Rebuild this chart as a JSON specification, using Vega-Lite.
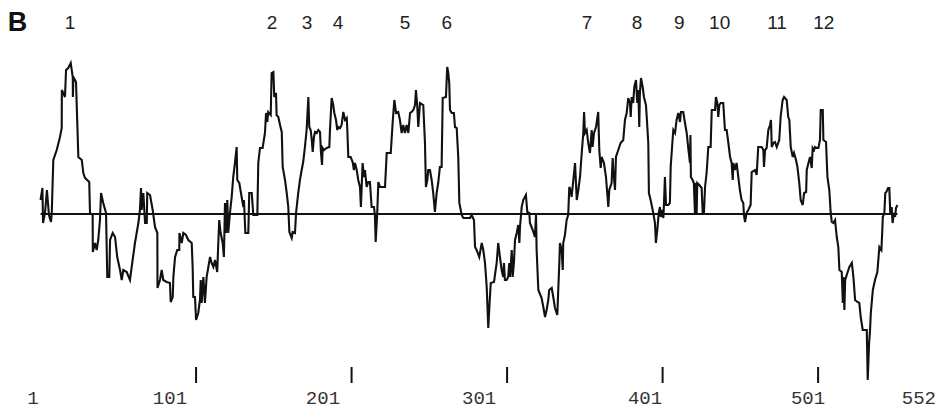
{
"$schema": "https://vega.github.io/schema/vega-lite/v6.json",
"width": 938, "height": 417, "autosize": {"type": "none"}, "padding": 0,
"background": "white",
"config": {"view": {"stroke": null}},
"datasets": {
"h": [
{"r":1,"v":0.28},{"r":2.2,"v":0.52},{"r":2.6,"v":-0.18},{"r":3.9,"v":0.04},{"r":5.1,"v":0.48},{"r":6.4,"v":-0.02},{"r":7.7,"v":-0.16},{"r":8.2,"v":0.02},{"r":9.2,"v":1.08},{"r":11.4,"v":1.28},{"r":13.5,"v":1.54},{"r":14.6,"v":1.72},{"r":14.7,"v":2.48},{"r":16.7,"v":2.34},{"r":17.4,"v":2.88},{"r":18.8,"v":2.92},{"r":20.4,"v":3.02},{"r":21.7,"v":2.74},{"r":21.8,"v":2.34},{"r":22.1,"v":2.74},{"r":23.8,"v":2.64},{"r":24.6,"v":1.84},{"r":25.3,"v":1.14},{"r":27.5,"v":1.08},{"r":28.5,"v":0.82},{"r":29.6,"v":0.72},{"r":32.3,"v":0.64},{"r":32.8,"v":0.02},{"r":34.5,"v":-0.02},{"r":34.6,"v":-0.76},{"r":36.0,"v":-0.58},{"r":37.1,"v":-0.72},{"r":38.1,"v":-0.52},{"r":39.2,"v":-0.12},{"r":39.9,"v":0.42},{"r":41.3,"v":0.22},{"r":43.1,"v":0.02},{"r":43.9,"v":-1.26},{"r":45.2,"v":-1.26},{"r":45.7,"v":-0.52},{"r":47.4,"v":-0.38},{"r":48.9,"v":-0.46},{"r":50.3,"v":-0.86},{"r":52.1,"v":-1.12},{"r":53.2,"v":-1.32},{"r":54.2,"v":-1.12},{"r":56.4,"v":-1.16},{"r":58.5,"v":-1.32},{"r":59.6,"v":-1.06},{"r":61.7,"v":-0.58},{"r":63.9,"v":-0.18},{"r":64.9,"v":0.08},{"r":65.6,"v":0.52},{"r":66.0,"v":0.08},{"r":67.1,"v":0.42},{"r":68.2,"v":-0.18},{"r":69.3,"v":-0.18},{"r":69.6,"v":0.42},{"r":71.4,"v":0.38},{"r":73.1,"v":0.08},{"r":74.6,"v":-0.26},{"r":76.1,"v":-0.38},{"r":76.2,"v":-1.48},{"r":77.8,"v":-1.32},{"r":78.9,"v":-1.12},{"r":79.9,"v":-1.32},{"r":82.1,"v":-1.36},{"r":84.2,"v":-1.38},{"r":84.7,"v":-1.76},{"r":86.0,"v":-1.66},{"r":86.4,"v":-1.26},{"r":87.5,"v":-0.86},{"r":88.9,"v":-0.72},{"r":90.2,"v":-0.72},{"r":90.3,"v":-0.38},{"r":91.8,"v":-0.58},{"r":92.8,"v":-0.38},{"r":94.5,"v":-0.42},{"r":96.0,"v":-0.52},{"r":98.2,"v":-0.58},{"r":98.8,"v":-1.06},{"r":99.2,"v":-1.66},{"r":100.3,"v":-1.66},{"r":101.0,"v":-2.12},{"r":102.4,"v":-1.98},{"r":103.5,"v":-1.72},{"r":104.0,"v":-1.32},{"r":104.6,"v":-1.78},{"r":105.7,"v":-1.26},{"r":106.7,"v":-1.78},{"r":107.8,"v":-1.26},{"r":108.9,"v":-1.06},{"r":110.0,"v":-0.86},{"r":111.0,"v":-0.98},{"r":112.1,"v":-1.06},{"r":113.2,"v":-0.92},{"r":114.6,"v":-1.16},{"r":115.3,"v":-0.58},{"r":115.9,"v":-0.12},{"r":116.8,"v":-0.38},{"r":118.1,"v":-0.58},{"r":118.9,"v":-0.86},{"r":119.6,"v":0.22},{"r":120.2,"v":-0.38},{"r":121.1,"v":0.28},{"r":121.7,"v":-0.38},{"r":122.8,"v":0.02},{"r":123.9,"v":0.34},{"r":124.9,"v":0.74},{"r":126.0,"v":1.02},{"r":127.1,"v":1.34},{"r":127.5,"v":0.68},{"r":128.8,"v":0.62},{"r":130.3,"v":0.34},{"r":131.4,"v":0.14},{"r":131.8,"v":0.28},{"r":132.7,"v":-0.38},{"r":134.6,"v":-0.38},{"r":135.2,"v":0.42},{"r":136.8,"v":0.42},{"r":137.8,"v":-0.02},{"r":140.4,"v":-0.02},{"r":141.0,"v":1.02},{"r":142.1,"v":1.32},{"r":143.8,"v":1.32},{"r":145.3,"v":1.62},{"r":146.0,"v":2.02},{"r":146.8,"v":1.84},{"r":147.4,"v":2.04},{"r":149.0,"v":1.98},{"r":149.6,"v":2.82},{"r":150.7,"v":2.84},{"r":151.3,"v":2.34},{"r":152.4,"v":2.42},{"r":152.8,"v":1.98},{"r":153.9,"v":1.94},{"r":155.0,"v":1.78},{"r":156.1,"v":1.64},{"r":156.7,"v":0.94},{"r":158.2,"v":0.68},{"r":159.3,"v":0.42},{"r":160.3,"v":0.14},{"r":161.0,"v":-0.36},{"r":162.5,"v":-0.48},{"r":163.1,"v":-0.36},{"r":164.6,"v":-0.38},{"r":165.3,"v":0.02},{"r":166.7,"v":0.42},{"r":167.8,"v":0.68},{"r":168.9,"v":0.88},{"r":169.9,"v":1.04},{"r":171.0,"v":1.34},{"r":172.1,"v":1.68},{"r":173.2,"v":2.34},{"r":173.8,"v":1.74},{"r":174.7,"v":1.68},{"r":175.4,"v":1.48},{"r":176.0,"v":1.24},{"r":176.8,"v":1.54},{"r":177.5,"v":1.64},{"r":178.6,"v":1.62},{"r":179.6,"v":1.68},{"r":180.7,"v":1.64},{"r":181.3,"v":1.24},{"r":182.0,"v":0.98},{"r":182.4,"v":1.32},{"r":183.3,"v":1.28},{"r":185.0,"v":1.32},{"r":186.7,"v":1.34},{"r":187.1,"v":1.68},{"r":188.2,"v":2.32},{"r":189.2,"v":2.18},{"r":189.9,"v":2.02},{"r":191.0,"v":1.88},{"r":191.8,"v":1.68},{"r":192.5,"v":1.74},{"r":193.6,"v":1.72},{"r":194.6,"v":1.78},{"r":195.7,"v":2.04},{"r":196.8,"v":1.88},{"r":197.9,"v":1.92},{"r":198.2,"v":1.74},{"r":198.9,"v":1.14},{"r":200.4,"v":1.14},{"r":201.7,"v":1.04},{"r":202.5,"v":0.88},{"r":203.2,"v":1.02},{"r":204.3,"v":0.88},{"r":205.3,"v":0.68},{"r":206.4,"v":0.54},{"r":207.0,"v":0.14},{"r":208.1,"v":1.02},{"r":209.0,"v":0.74},{"r":209.6,"v":0.88},{"r":210.7,"v":0.54},{"r":211.7,"v":0.64},{"r":212.8,"v":0.64},{"r":213.9,"v":0.14},{"r":215.4,"v":0.14},{"r":216.0,"v":-0.02},{"r":216.5,"v":-0.56},{"r":217.5,"v":0.02},{"r":218.2,"v":0.64},{"r":219.3,"v":0.54},{"r":222.5,"v":0.54},{"r":223.6,"v":1.22},{"r":226.2,"v":1.22},{"r":227.4,"v":1.82},{"r":228.5,"v":2.28},{"r":229.6,"v":2.02},{"r":231.0,"v":2.04},{"r":232.1,"v":1.88},{"r":233.2,"v":1.62},{"r":234.2,"v":1.78},{"r":235.3,"v":1.62},{"r":236.4,"v":1.78},{"r":237.5,"v":1.62},{"r":238.6,"v":2.02},{"r":239.6,"v":2.04},{"r":240.7,"v":2.08},{"r":241.8,"v":2.18},{"r":242.4,"v":2.48},{"r":243.2,"v":2.18},{"r":243.9,"v":1.74},{"r":245.0,"v":2.22},{"r":247.1,"v":2.18},{"r":248.2,"v":1.42},{"r":248.8,"v":0.54},{"r":249.7,"v":0.68},{"r":250.3,"v":0.88},{"r":251.4,"v":0.88},{"r":252.5,"v":0.68},{"r":253.5,"v":0.42},{"r":254.6,"v":0.04},{"r":255.7,"v":0.42},{"r":256.7,"v":0.62},{"r":257.8,"v":0.94},{"r":258.9,"v":0.94},{"r":259.6,"v":2.32},{"r":261.7,"v":2.34},{"r":262.5,"v":2.94},{"r":263.2,"v":2.82},{"r":263.8,"v":2.62},{"r":264.3,"v":2.08},{"r":265.4,"v":2.02},{"r":266.8,"v":2.02},{"r":267.5,"v":1.74},{"r":268.6,"v":1.72},{"r":269.6,"v":1.14},{"r":270.3,"v":0.22},{"r":271.8,"v":-0.02},{"r":272.9,"v":-0.08},{"r":277.2,"v":-0.08},{"r":278.2,"v":-0.02},{"r":279.7,"v":-0.12},{"r":280.4,"v":-0.66},{"r":281.4,"v":-0.72},{"r":283.1,"v":-0.86},{"r":284.7,"v":-0.58},{"r":285.7,"v":-0.72},{"r":286.8,"v":-0.98},{"r":287.9,"v":-1.46},{"r":288.9,"v":-2.28},{"r":289.6,"v":-1.86},{"r":290.5,"v":-1.38},{"r":292.6,"v":-1.36},{"r":294.3,"v":-0.98},{"r":295.3,"v":-0.58},{"r":296.4,"v":-0.86},{"r":297.5,"v":-1.12},{"r":298.5,"v":-1.26},{"r":299.0,"v":-0.98},{"r":299.6,"v":-1.32},{"r":300.7,"v":-1.32},{"r":301.7,"v":-1.26},{"r":302.4,"v":-0.98},{"r":302.9,"v":-1.26},{"r":304.0,"v":-0.72},{"r":304.6,"v":-1.26},{"r":305.4,"v":-0.98},{"r":306.1,"v":-0.52},{"r":307.2,"v":-0.38},{"r":308.2,"v":-0.22},{"r":308.9,"v":-0.58},{"r":309.3,"v":-0.26},{"r":310.4,"v":0.14},{"r":311.4,"v":0.28},{"r":313.1,"v":0.38},{"r":314.0,"v":0.04},{"r":315.3,"v":0.02},{"r":315.7,"v":-0.18},{"r":317.5,"v":-0.32},{"r":318.9,"v":-0.46},{"r":319.6,"v":-0.02},{"r":320.0,"v":-0.72},{"r":321.1,"v":-1.52},{"r":323.2,"v":-1.68},{"r":324.3,"v":-1.86},{"r":325.4,"v":-2.06},{"r":326.4,"v":-1.92},{"r":327.5,"v":-1.72},{"r":328.1,"v":-1.52},{"r":329.7,"v":-1.48},{"r":330.7,"v":-1.66},{"r":331.8,"v":-1.88},{"r":333.3,"v":-2.02},{"r":333.9,"v":-1.52},{"r":334.6,"v":-0.98},{"r":335.0,"v":-0.58},{"r":336.1,"v":-0.72},{"r":336.8,"v":-1.12},{"r":337.1,"v":-0.58},{"r":338.2,"v":-0.42},{"r":339.3,"v":-0.12},{"r":340.3,"v":-0.02},{"r":341.0,"v":0.54},{"r":341.9,"v":0.48},{"r":342.5,"v":0.34},{"r":343.6,"v":0.68},{"r":344.7,"v":1.02},{"r":345.8,"v":0.28},{"r":346.8,"v":0.48},{"r":347.9,"v":0.74},{"r":349.0,"v":1.22},{"r":350.0,"v":1.62},{"r":350.5,"v":2.04},{"r":351.1,"v":1.62},{"r":352.2,"v":1.68},{"r":353.2,"v":1.42},{"r":354.3,"v":1.22},{"r":355.4,"v":1.68},{"r":356.0,"v":1.34},{"r":356.9,"v":1.62},{"r":358.2,"v":1.74},{"r":359.6,"v":2.04},{"r":360.3,"v":1.28},{"r":361.2,"v":0.92},{"r":361.8,"v":1.14},{"r":363.3,"v":1.02},{"r":364.6,"v":0.74},{"r":365.4,"v":0.42},{"r":366.1,"v":0.14},{"r":366.7,"v":0.48},{"r":368.2,"v":0.62},{"r":368.9,"v":1.12},{"r":369.3,"v":0.88},{"r":370.4,"v":0.48},{"r":371.0,"v":1.14},{"r":372.5,"v":1.28},{"r":374.0,"v":1.42},{"r":375.7,"v":1.48},{"r":376.8,"v":1.88},{"r":377.9,"v":2.02},{"r":378.9,"v":2.32},{"r":380.0,"v":2.22},{"r":380.5,"v":1.94},{"r":381.1,"v":2.34},{"r":382.1,"v":2.22},{"r":382.8,"v":2.54},{"r":383.9,"v":2.68},{"r":384.7,"v":2.22},{"r":385.4,"v":2.48},{"r":386.0,"v":1.74},{"r":386.4,"v":2.42},{"r":387.1,"v":2.72},{"r":388.2,"v":2.54},{"r":389.0,"v":2.34},{"r":390.3,"v":2.18},{"r":390.8,"v":1.94},{"r":391.8,"v":1.42},{"r":392.2,"v":0.42},{"r":393.3,"v":0.28},{"r":395.0,"v":0.02},{"r":396.1,"v":-0.18},{"r":396.7,"v":-0.58},{"r":397.6,"v":-0.32},{"r":398.5,"v":0.02},{"r":399.3,"v":0.14},{"r":399.8,"v":-0.06},{"r":400.4,"v":0.08},{"r":401.5,"v":-0.08},{"r":401.9,"v":0.22},{"r":402.5,"v":0.74},{"r":403.2,"v":0.18},{"r":404.6,"v":0.18},{"r":405.7,"v":0.22},{"r":406.2,"v":0.94},{"r":407.5,"v":1.52},{"r":407.9,"v":1.68},{"r":409.0,"v":1.62},{"r":410.0,"v":1.88},{"r":411.1,"v":2.02},{"r":412.2,"v":1.84},{"r":412.8,"v":2.04},{"r":414.3,"v":2.04},{"r":415.4,"v":1.82},{"r":416.5,"v":1.62},{"r":417.5,"v":1.32},{"r":418.6,"v":1.02},{"r":418.9,"v":1.58},{"r":419.2,"v":0.74},{"r":420.3,"v":0.68},{"r":421.1,"v":0.62},{"r":421.8,"v":0.02},{"r":422.4,"v":0.62},{"r":422.9,"v":0.02},{"r":423.3,"v":0.62},{"r":424.6,"v":0.58},{"r":426.1,"v":0.52},{"r":426.8,"v":0.02},{"r":427.6,"v":0.02},{"r":428.3,"v":0.54},{"r":429.3,"v":0.82},{"r":430.4,"v":1.34},{"r":431.9,"v":1.34},{"r":432.6,"v":2.08},{"r":434.7,"v":2.08},{"r":435.3,"v":2.34},{"r":436.2,"v":2.22},{"r":436.8,"v":1.94},{"r":437.5,"v":2.18},{"r":438.4,"v":2.22},{"r":440.0,"v":2.22},{"r":441.1,"v":1.68},{"r":442.2,"v":1.68},{"r":443.3,"v":1.42},{"r":444.4,"v":1.14},{"r":445.4,"v":1.02},{"r":446.1,"v":0.68},{"r":446.5,"v":1.02},{"r":447.5,"v":0.88},{"r":448.6,"v":1.02},{"r":449.7,"v":0.74},{"r":450.7,"v":0.48},{"r":451.8,"v":0.28},{"r":452.9,"v":0.22},{"r":453.3,"v":-0.02},{"r":454.0,"v":-0.16},{"r":455.0,"v":0.02},{"r":456.1,"v":0.08},{"r":457.6,"v":0.18},{"r":458.3,"v":0.84},{"r":460.4,"v":0.88},{"r":461.5,"v":0.78},{"r":462.5,"v":1.34},{"r":464.7,"v":1.34},{"r":465.8,"v":1.28},{"r":466.2,"v":0.94},{"r":466.9,"v":1.28},{"r":467.9,"v":1.32},{"r":469.0,"v":1.68},{"r":470.1,"v":1.78},{"r":470.7,"v":1.88},{"r":471.2,"v":1.34},{"r":472.2,"v":1.42},{"r":473.3,"v":1.44},{"r":474.4,"v":1.34},{"r":476.0,"v":1.48},{"r":476.9,"v":1.94},{"r":478.2,"v":2.28},{"r":479.1,"v":2.34},{"r":480.8,"v":2.28},{"r":481.8,"v":1.94},{"r":482.5,"v":1.88},{"r":483.4,"v":1.34},{"r":484.7,"v":1.14},{"r":485.5,"v":1.22},{"r":486.8,"v":1.08},{"r":487.7,"v":0.94},{"r":488.9,"v":0.62},{"r":489.8,"v":0.28},{"r":491.1,"v":0.18},{"r":492.0,"v":0.42},{"r":493.3,"v":0.44},{"r":493.7,"v":0.88},{"r":494.8,"v":1.02},{"r":495.8,"v":1.14},{"r":496.9,"v":0.92},{"r":497.5,"v":1.32},{"r":498.4,"v":1.28},{"r":499.0,"v":1.34},{"r":500.1,"v":1.32},{"r":501.2,"v":1.32},{"r":502.2,"v":1.48},{"r":502.7,"v":2.08},{"r":504.0,"v":2.08},{"r":504.4,"v":1.48},{"r":506.1,"v":1.44},{"r":507.0,"v":0.74},{"r":508.2,"v":0.48},{"r":509.1,"v":0.02},{"r":509.8,"v":-0.16},{"r":510.8,"v":-0.18},{"r":511.9,"v":-0.12},{"r":513.0,"v":-0.46},{"r":514.0,"v":-0.66},{"r":514.7,"v":-1.12},{"r":516.2,"v":-1.16},{"r":516.9,"v":-1.78},{"r":517.3,"v":-1.26},{"r":517.9,"v":-1.92},{"r":518.4,"v":-1.32},{"r":519.4,"v":-1.22},{"r":521.1,"v":-1.06},{"r":522.7,"v":-0.98},{"r":523.7,"v":-1.26},{"r":524.8,"v":-1.72},{"r":526.3,"v":-1.76},{"r":527.5,"v":-1.78},{"r":528.4,"v":-2.06},{"r":529.7,"v":-2.32},{"r":531.2,"v":-2.32},{"r":532.3,"v":-2.32},{"r":532.9,"v":-3.32},{"r":533.8,"v":-2.58},{"r":534.4,"v":-2.32},{"r":534.9,"v":-1.98},{"r":536.2,"v":-1.52},{"r":537.6,"v":-1.32},{"r":539.1,"v":-1.16},{"r":540.4,"v":-0.66},{"r":541.7,"v":-0.72},{"r":542.3,"v":-0.32},{"r":542.6,"v":-0.06},{"r":543.6,"v":0.02},{"r":544.2,"v":0.42},{"r":544.9,"v":0.44},{"r":546.0,"v":0.52},{"r":546.8,"v":0.52},{"r":547.4,"v":0.02},{"r":548.3,"v":0.14},{"r":548.9,"v":-0.18},{"r":549.7,"v":0.02},{"r":550.5,"v":-0.06},{"r":551.1,"v":0.12},{"r":552.0,"v":0.18}
],
"ticks": [{"t":101},{"t":201},{"t":301},{"t":401},{"t":501}],
"bottom": [{"label":"1","at":-3.9},{"label":"101","at":84.2},{"label":"201","at":182.6},{"label":"301","at":283.0},{"label":"401","at":389.7},{"label":"501","at":494.5},{"label":"552","at":565.8}],
"top": [{"label":"1","at":19.9},{"label":"2","at":149.8},{"label":"3","at":172.3},{"label":"4","at":192.3},{"label":"5","at":235.3},{"label":"6","at":262.3},{"label":"7","at":352.4},{"label":"8","at":384.5},{"label":"9","at":411.7},{"label":"10","at":437.7},{"label":"11","at":474.6},{"label":"12","at":504.6}],
"panel": [{"label":"B"}]
},
"layer": [
{
"data": {"name": "panel"},
"mark": {"type": "rule", "color": "#111111", "strokeWidth": 1.8},
"encoding": {
"x": {"datum": 1, "type": "quantitative", "scale": {"domain": [-25.08, 578.1], "nice": false, "zero": false}, "axis": null},
"x2": {"datum": 552},
"y": {"datum": 0, "type": "quantitative", "scale": {"domain": [-4.06, 4.28], "nice": false, "zero": false}, "axis": null}
}
},
{
"data": {"name": "h"},
"mark": {"type": "line", "color": "#111111", "strokeWidth": 2.1, "interpolate": "linear"},
"encoding": {
"x": {"field": "r", "type": "quantitative", "title": "Residue", "axis": null},
"y": {"field": "v", "type": "quantitative", "title": "Hydropathy", "axis": null}
}
},
{
"data": {"name": "ticks"},
"mark": {"type": "rule", "color": "#111111", "strokeWidth": 2},
"encoding": {
"x": {"field": "t", "type": "quantitative", "axis": null},
"y": {"datum": -3.06, "type": "quantitative"},
"y2": {"datum": -3.38}
}
},
{
"data": {"name": "bottom"},
"mark": {"type": "text", "font": "Liberation Mono", "fontSize": 19, "color": "#333333", "align": "center", "baseline": "middle"},
"encoding": {
"x": {"field": "at", "type": "quantitative", "axis": null},
"y": {"datum": -3.68, "type": "quantitative"},
"text": {"field": "label"}
}
},
{
"data": {"name": "top"},
"mark": {"type": "text", "font": "Liberation Sans", "fontSize": 19, "color": "#222222", "align": "center", "baseline": "middle"},
"encoding": {
"x": {"field": "at", "type": "quantitative", "axis": null},
"y": {"datum": 3.82, "type": "quantitative"},
"text": {"field": "label"}
}
},
{
"data": {"name": "panel"},
"mark": {"type": "text", "font": "Liberation Sans", "fontSize": 27, "fontWeight": "bold", "color": "#111111", "align": "center", "baseline": "middle"},
"encoding": {
"x": {"datum": -13.8, "type": "quantitative"},
"y": {"datum": 3.82, "type": "quantitative"},
"text": {"field": "label"}
}
}
]
}
